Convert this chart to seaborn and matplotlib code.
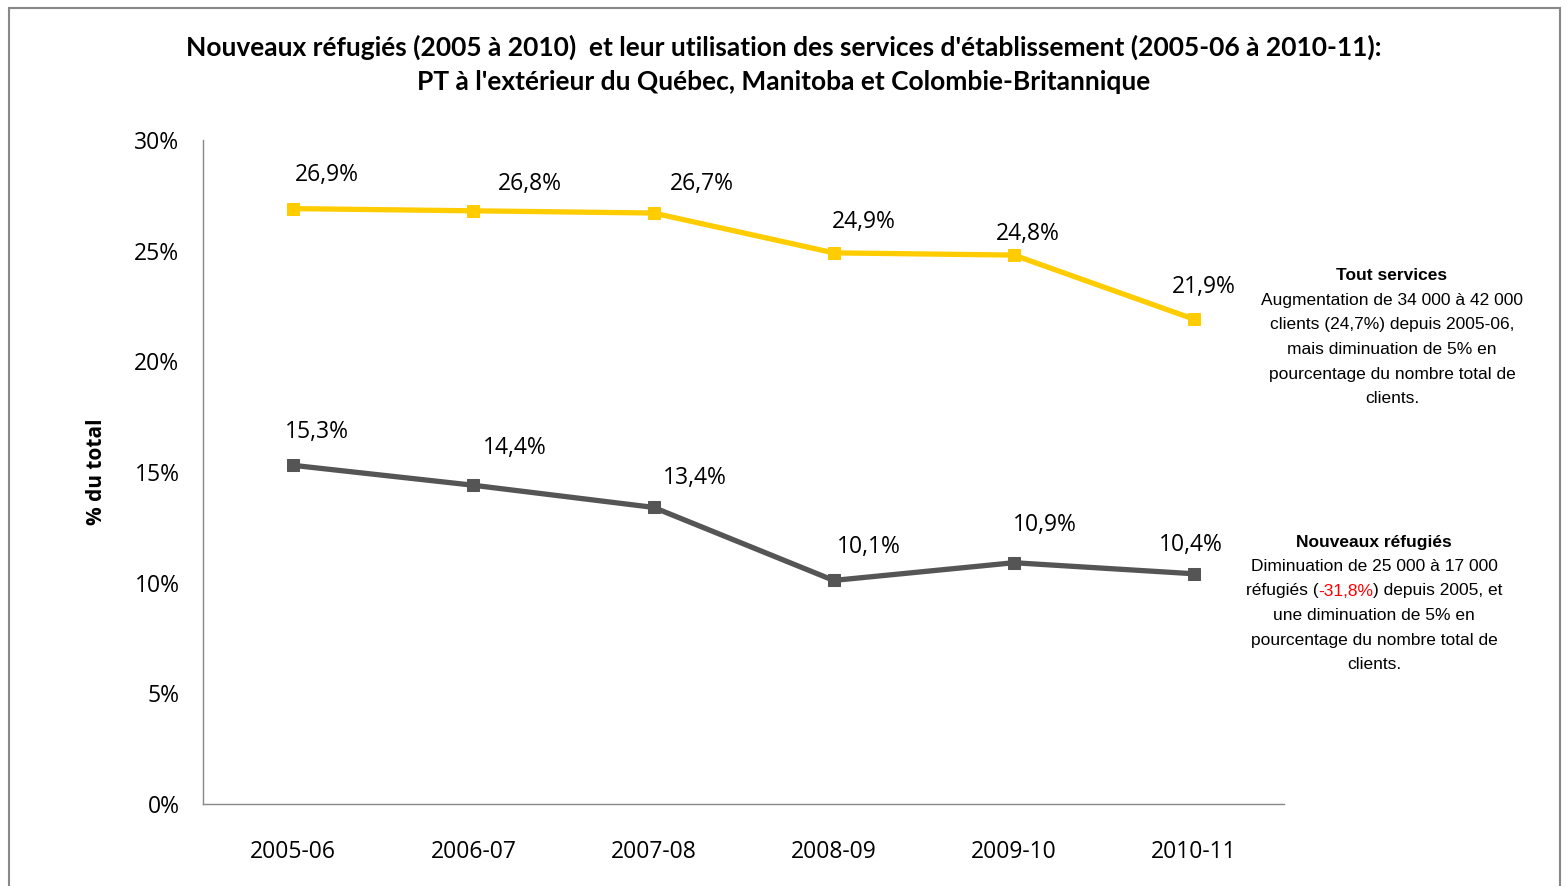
import pandas as pd
import matplotlib
matplotlib.use("Agg")
import matplotlib.pyplot as plt
import seaborn as sns
from matplotlib.patches import Rectangle
from matplotlib.ticker import FixedLocator, PercentFormatter

annees = ["2005-06", "2006-07", "2007-08", "2008-09", "2009-10", "2010-11"]
tout_services = [26.9, 26.8, 26.7, 24.9, 24.8, 21.9]
nouveaux_refugies = [15.3, 14.4, 13.4, 10.1, 10.9, 10.4]

jaune = "#FFCC00"
gris = "#555555"

# décalages des étiquettes (points), style seulement
off_jaune = [(24, 24), (41, 19), (35, 21), (22, 22), (10, 15), (7, 23)]
off_gris = [(17, 24), (30, 27), (30, 21), (25, 24), (22, 27), (-2, 21)]

df = pd.DataFrame({"annee": annees, "tout": tout_services, "refugies": nouveaux_refugies})

sns.set_style("white")
plt.rcParams["font.family"] = ["Open Sans", "DejaVu Sans"]
plt.rcParams["text.color"] = "black"
plt.rcParams["xtick.labelcolor"] = "black"
plt.rcParams["ytick.labelcolor"] = "black"
plt.rcParams["axes.labelcolor"] = "black"

fig = plt.figure(figsize=(15.68, 8.86), dpi=100)
ax = fig.add_axes([0.1295, 0.0926, 0.6895, 0.7494])

sns.lineplot(data=df, x="annee", y="tout", ax=ax, color=jaune, lw=3.8,
             marker="s", markersize=9, markeredgecolor=jaune, sort=False)
sns.lineplot(data=df, x="annee", y="refugies", ax=ax, color=gris, lw=3.8,
             marker="s", markersize=9, markeredgecolor=gris, sort=False)

for i, v in enumerate(tout_services):
    ax.annotate(f"{v:.1f}%".replace(".", ","), (i, v), xytext=off_jaune[i],
                textcoords="offset points", ha="center", va="center", fontsize=16.5)
for i, v in enumerate(nouveaux_refugies):
    ax.annotate(f"{v:.1f}%".replace(".", ","), (i, v), xytext=off_gris[i],
                textcoords="offset points", ha="center", va="center", fontsize=16.5)

ax.set_xlim(-0.5, len(annees) - 0.5)
ax.set_ylim(0, 30)
ax.set_yticks(range(0, 31, 5))
ax.yaxis.set_major_formatter(PercentFormatter(decimals=0))
ax.xaxis.set_minor_locator(FixedLocator([i - 0.5 for i in range(len(annees) + 1)]))
ax.tick_params(axis="x", which="major", length=0, pad=26, labelsize=16.5)
ax.tick_params(axis="x", which="minor", length=5, width=1, color="#888888", direction="out")
ax.tick_params(axis="y", length=5, width=1, color="#888888", direction="out", labelsize=16.5, pad=12)
ax.set_xlabel("")
ax.set_ylabel("% du total", fontsize=15, fontweight="bold", labelpad=20)
for s in ["top", "right"]:
    ax.spines[s].set_visible(False)
for s in ["left", "bottom"]:
    ax.spines[s].set_color("#888888")
    ax.spines[s].set_linewidth(1)

tf = ["Lato", "DejaVu Sans"]
fig.text(0.5, 0.947, "Nouveaux réfugiés (2005 à 2010)  et leur utilisation des services d'établissement (2005-06 à 2010-11):",
         ha="center", va="center", fontsize=19, fontweight="bold", family=tf)
fig.text(0.5, 0.907, "PT à l'extérieur du Québec, Manitoba et Colombie-Britannique",
         ha="center", va="center", fontsize=19, fontweight="bold", family=tf)

nar = ["Liberation Sans Narrow", "Liberation Sans", "DejaVu Sans"]
fs = 12.5
lh = 24.5 / 886


def bloc(cx, y0, titre, lignes):
    fig.text(cx, y0, titre, ha="center", va="center", fontsize=fs, fontweight="bold", family=nar)
    for k, l in enumerate(lignes):
        fig.text(cx, y0 - (k + 1) * lh, l, ha="center", va="center", fontsize=fs, family=nar)


cx1 = 1392 / 1568
bloc(cx1, 1 - 276 / 886, "Tout services",
     ["Augmentation de 34 000 à 42 000", "clients (24,7%) depuis 2005-06,",
      "mais diminuation de 5% en", "pourcentage du nombre total de", "clients."])

cx2 = 1374 / 1568
y2 = 1 - 542 / 886
bloc(cx2, y2, "Nouveaux réfugiés",
     ["Diminuation de 25 000 à 17 000", "", "une diminuation de 5% en",
      "pourcentage du nombre total de", "clients."])

# ligne avec la partie rouge
morceaux = [("réfugiés (", "black"), ("-31,8%", "red"), (") depuis 2005, et", "black")]
yl = y2 - 2 * lh
plein = fig.text(cx2, yl, "".join(m for m, _ in morceaux), ha="center", va="center",
                 fontsize=fs, family=nar, alpha=0)
fig.canvas.draw()
r = fig.canvas.get_renderer()
x0 = plein.get_window_extent(r).x0 / fig.bbox.width
prec = None
for m, c in morceaux:
    if prec is None:
        prec = fig.text(x0, yl, m, ha="left", va="center", fontsize=fs, family=nar, color=c)
    else:
        prec = fig.text(prec.get_window_extent(r).x1 / fig.bbox.width, yl, m, ha="left",
                        va="center", fontsize=fs, family=nar, color=c)

fig.patches.append(Rectangle((9 / 1568, -0.05), 1551 / 1568, 1 - 8 / 886 + 0.05,
                             transform=fig.transFigure, fill=False, edgecolor="#888888", lw=1.5))

fig.savefig("out.png", dpi=100)
